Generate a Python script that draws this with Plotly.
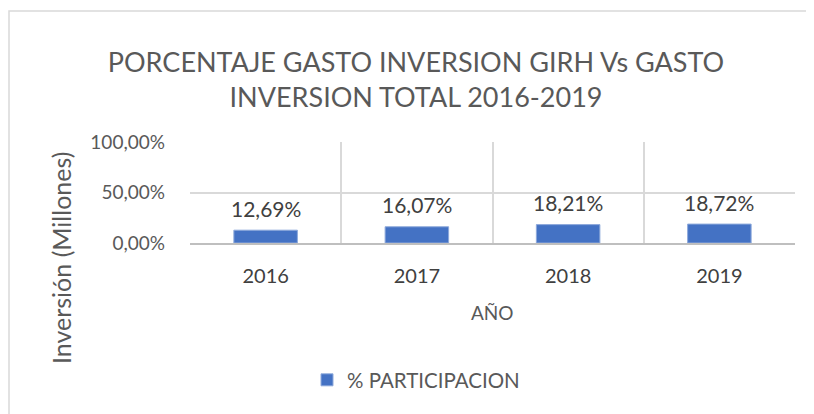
import plotly.graph_objects as go

years = ["2016", "2017", "2018", "2019"]
participacion = [0.1269, 0.1607, 0.1821, 0.1872]
y_tick_vals = [0, 0.5, 1.0]
y_tick_text = ["0,00%", "50,00%", "100,00%"]
series_name = "% PARTICIPACION"
title_text = "PORCENTAJE GASTO INVERSION GIRH Vs GASTO<br>INVERSION TOTAL 2016-2019"

OFF = 8                      # page body margin in the browser
W, H = 814 - OFF, 414 - OFF  # figure size
# plot area box in reference-picture pixels
L, R, T, B = 190, 795, 142, 243
pw, ph = R - L, B - T

def px_x(x):
    return (x - L) / pw

def px_y(y):
    return (B - y) / ph

FONT = "Lato, 'Open Sans', sans-serif"
GREY = "#595959"

fig = go.Figure()
fig.add_trace(go.Bar(
    x=years, y=participacion, name=series_name,
    marker=dict(color="#4472C4", line=dict(color="#8EA9DB", width=1)),
    showlegend=True,
))

labels = [f"{v*100:.2f}%".replace(".", ",") for v in participacion]
for i, (v, lab) in enumerate(zip(participacion, labels)):
    fig.add_annotation(x=i, y=v, xref="x", yref="y", text=lab, showarrow=False,
                       yshift=22, yanchor="middle", xanchor="center",
                       font=dict(family=FONT, size=21, color="#404040"))

fig.add_annotation(xref="paper", yref="paper", x=px_x(61), y=px_y(258),
                   xanchor="center", yanchor="middle",
                   text="Inversión (Millones)", textangle=-90, showarrow=False,
                   font=dict(family=FONT, size=25, color=GREY))
fig.add_annotation(xref="paper", yref="paper", x=px_x(492), y=px_y(312),
                   xanchor="center", yanchor="middle",
                   text="AÑO", showarrow=False,
                   font=dict(family=FONT, size=19, color=GREY))

fig.add_shape(type="rect", xref="paper", yref="paper",
              x0=px_x(9), x1=px_x(840), y0=px_y(440), y1=px_y(11),
              line=dict(color="#D9D9D9", width=1.5), fillcolor="rgba(0,0,0,0)", layer="below")

fig.update_layout(
    width=W, height=H,
    margin=dict(l=L - OFF, r=W - (R - OFF), t=T - OFF, b=H - (B - OFF), autoexpand=False),
    paper_bgcolor="white", plot_bgcolor="white",
    title=dict(text=title_text, x=(416 - OFF) / W, xanchor="center", xref="container",
               y=1 - (72 - OFF) / H, yanchor="middle", yref="container",
               font=dict(family=FONT, size=27, color=GREY)),
    bargap=0.58,
    showlegend=True,
    legend=dict(orientation="h", x=px_x(307), xanchor="left", y=px_y(380), yanchor="middle",
                font=dict(family=FONT, size=20.5, color=GREY)),
    xaxis=dict(type="category", range=[-0.5, len(years) - 0.5], tickson="boundaries",
               showgrid=True, gridcolor="#D9D9D9",
               gridwidth=1.5, ticks="", showline=True, linecolor="#BFBFBF", linewidth=1.5,
               ticklabelstandoff=14,
               tickfont=dict(family=FONT, size=20, color="#404040")),
    yaxis=dict(range=[0, 1.0], tickvals=y_tick_vals, ticktext=y_tick_text,
               showgrid=True, gridcolor="#D9D9D9", gridwidth=1.5, zeroline=False,
               showline=False, ticks="", ticklabelstandoff=24,
               tickfont=dict(family=FONT, size=19, color=GREY)),
)

fig.write_html("out.html")
